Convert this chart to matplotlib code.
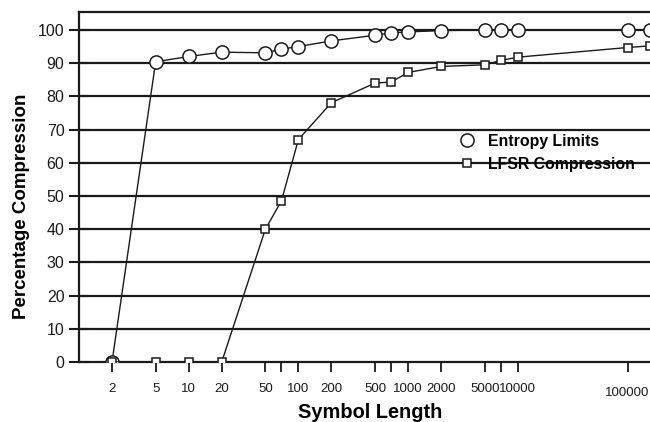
"""Entropy limits vs LFSR compression"""

import matplotlib.pyplot as plt
from matplotlib.lines import Line2D

plt.rcParams["font.family"] = ["Liberation Sans", "DejaVu Sans"]

SYMBOL_LENGTH = [2, 5, 10, 20, 50, 70, 100, 200, 500, 700, 1000, 2000,
                 5000, 7000, 10000, 100000, 160000]
ENTROPY = [0, 90.4, 92.0, 93.3, 93.1, 94.2, 95.0, 96.7, 98.4, 99.1, 99.4,
           99.8, 100, 100, 100, 100, 100]
LFSR = [0, 0, 0, 0, 40.0, 48.5, 67.0, 78.1, 84.0, 84.3, 87.2, 89.0,
        89.5, 90.8, 91.8, 94.7, 95.2]

X_TICKS = [2, 5, 10, 20, 50, 70, 100, 200, 500, 700, 1000, 2000,
           5000, 7000, 10000, 100000]
X_LABELS = ["2", "5", "10", "20", "50", "", "100", "200", "500", "", "1000",
            "2000", "5000", "", "10000", "100000"]
Y_TICKS = list(range(0, 101, 10))

INK = "#1a1a1a"

fig = plt.figure(figsize=(6.5, 4.22), dpi=100)
ax = fig.add_axes([0.1215, 0.1422, 0.8785, 0.8294])

for y in Y_TICKS[1:]:
    ax.axhline(y, color=INK, lw=1.6, zorder=1)

ax.plot(SYMBOL_LENGTH, ENTROPY, color=INK, lw=1.0, marker="o", ms=9.5,
        mfc="white", mec=INK, mew=1.1, zorder=3, clip_on=True)
ax.plot(SYMBOL_LENGTH, LFSR, color=INK, lw=1.0, marker="s", ms=6,
        mfc="white", mec=INK, mew=1.1, zorder=3, clip_on=True)

ax.set_xscale("log")
ax.set_xlim(1, 160000)
ax.set_ylim(0, 105.4)

ax.set_xticks(X_TICKS)
ax.set_xticklabels(X_LABELS)
ax.minorticks_off()
ax.set_yticks(Y_TICKS)

ax.tick_params(axis="x", direction="out", length=7, width=1.3, color=INK,
               labelsize=9.5, pad=8, labelcolor=INK)
ax.tick_params(axis="y", direction="inout", length=15, width=1.5, color=INK,
               labelsize=11.5, pad=3, labelcolor=INK)
ax.xaxis.get_major_ticks()[-1].set_pad(11)

for side in ["left", "top", "bottom"]:
    ax.spines[side].set_color(INK)
    ax.spines[side].set_linewidth(1.6)
ax.spines["right"].set_visible(False)

ax.set_xlabel("Symbol Length", fontsize=14.4, fontweight="bold")
ax.xaxis.set_label_coords(0.51, -0.118)
ax.set_ylabel("Percentage Compression", fontsize=13.5, fontweight="bold")
ax.yaxis.set_label_coords(-0.086, 0.446)

handles = [
    Line2D([], [], ls="none", marker="o", ms=9.5, mfc="white", mec=INK, mew=1.1),
    Line2D([], [], ls="none", marker="s", ms=6, mfc="white", mec=INK, mew=1.1),
]
ax.legend(handles, ["Entropy Limits", "LFSR Compression"], frameon=False,
          loc="upper left", bbox_to_anchor=(0.652, 0.67),
          prop={"weight": "bold", "size": 11.4}, handletextpad=0.75,
          labelspacing=0.5, handlelength=1.2, borderaxespad=0)

fig.savefig("out.png", dpi=100)
